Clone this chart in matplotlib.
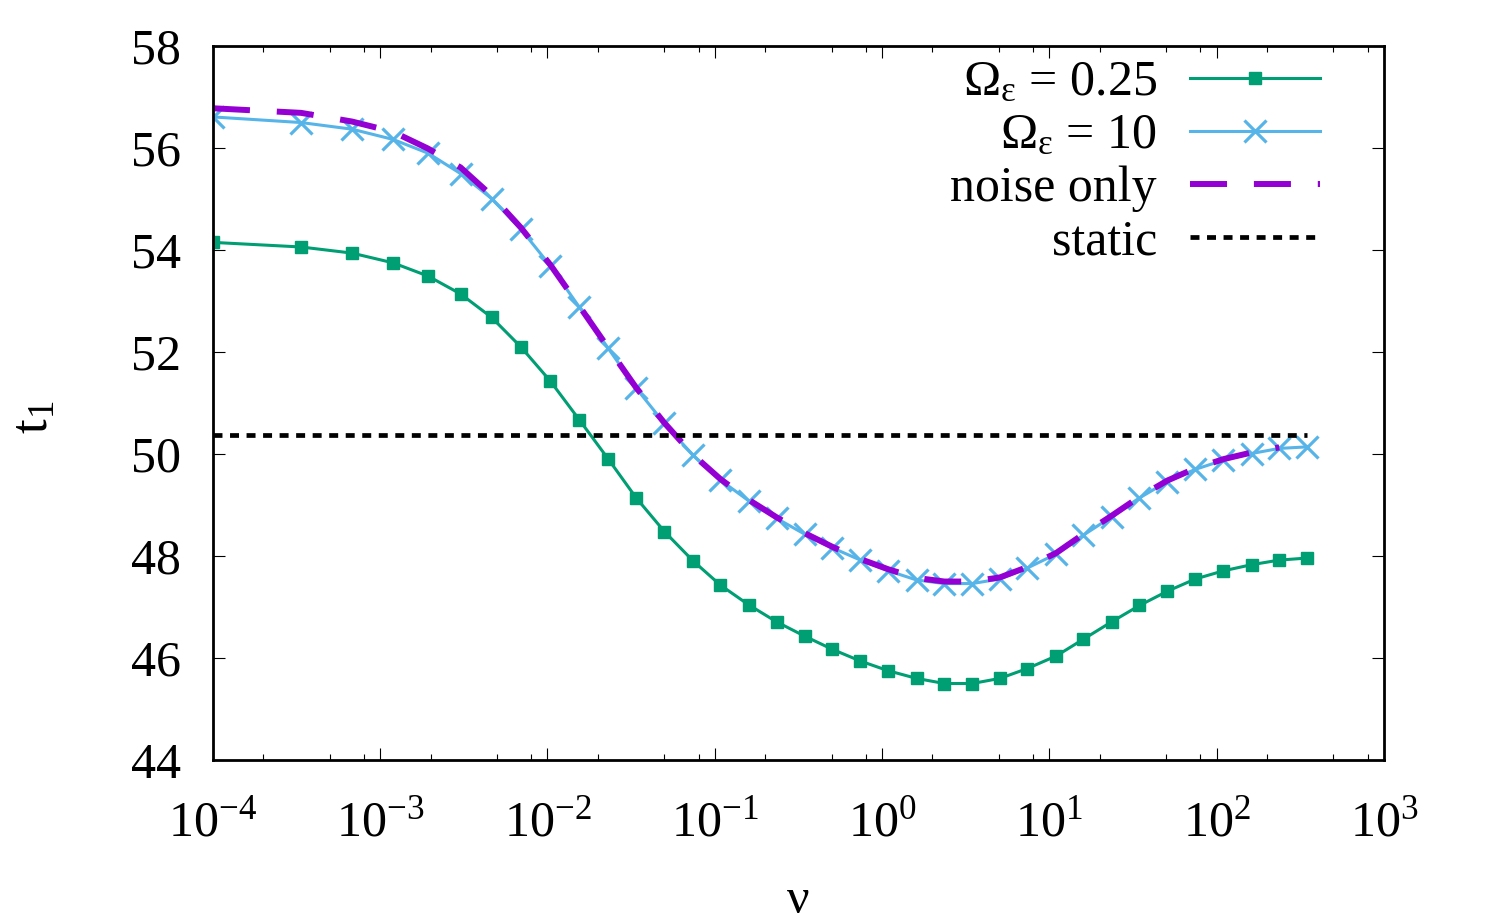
import numpy as np
import matplotlib
matplotlib.use('Agg')
import matplotlib.pyplot as plt
from matplotlib.ticker import FixedLocator, LogLocator, FuncFormatter, NullFormatter

# nu grid
nu = [1.0e-4, 3.36e-4, 6.78e-4, 1.19e-3, 1.93e-3, 3.02e-3, 4.63e-3, 6.93e-3,
      1.04e-2, 1.55e-2, 2.31e-2, 3.39e-2, 5.00e-2, 7.39e-2, 0.108, 0.160,
      0.234, 0.344, 0.505, 0.743, 1.09, 1.61, 2.36, 3.46, 5.06, 7.34,
      11.0, 16.0, 23.6, 34.6, 50.8, 74.7, 110.0, 162.0, 237.0, 346.0]

# t1 for Omega_eps = 0.25
t1_omega_025 = [54.15, 54.06, 53.94, 53.75, 53.49, 53.14, 52.68, 52.10, 51.43, 50.67,
                49.90, 49.14, 48.48, 47.91, 47.43, 47.04, 46.71, 46.43, 46.17, 45.94,
                45.75, 45.60, 45.50, 45.50, 45.60, 45.79, 46.04, 46.37, 46.71, 47.03,
                47.31, 47.55, 47.71, 47.83, 47.92, 47.96]

# t1 for Omega_eps = 10
t1_omega_10 = [56.61, 56.50, 56.37, 56.17, 55.90, 55.50, 55.01, 54.41, 53.69, 52.88,
               52.07, 51.29, 50.60, 49.98, 49.49, 49.08, 48.74, 48.43, 48.16, 47.92,
               47.71, 47.53, 47.46, 47.46, 47.55, 47.76, 48.04, 48.41, 48.77, 49.14,
               49.46, 49.70, 49.88, 50.01, 50.11, 50.14]

# noise only (ends one point earlier)
t1_noise = [56.78, 56.69, 56.52, 56.32, 55.99, 55.62, 55.07, 54.44, 53.71, 52.90,
            52.08, 51.30, 50.61, 49.99, 49.51, 49.10, 48.76, 48.45, 48.18, 47.94,
            47.74, 47.57, 47.50, 47.50, 47.58, 47.78, 48.06, 48.43, 48.79, 49.16,
            49.48, 49.72, 49.90, 50.03, 50.13]

t1_static = 50.37

plt.rcParams['font.family'] = 'Liberation Serif'
plt.rcParams['mathtext.fontset'] = 'custom'
plt.rcParams['mathtext.rm'] = 'Liberation Serif'
plt.rcParams['mathtext.it'] = 'Liberation Serif:italic'

fs = 36
fig = plt.figure(figsize=(15.04, 9.21), dpi=100)
ax = fig.add_axes([0.1416, 0.1748, 0.7785, 0.7752])

ax.plot(nu, t1_omega_025, color='#009e73', lw=2.2, marker='s', ms=9,
        label=r'$\mathregular{\Omega_{\epsilon}}$ = 0.25')
ax.plot(nu, t1_omega_10, color='#56b4e9', lw=2.2, marker='x', ms=16, mew=2.3,
        label=r'$\mathregular{\Omega_{\epsilon}}$ = 10')
ax.plot(nu[:len(t1_noise)], t1_noise, color='#9400d3', lw=4.3, dashes=(6.2, 4.5),
        label='noise only')
ax.plot([nu[0], nu[-1]], [t1_static, t1_static], color='black', lw=3.4,
        dashes=(1.9, 1.6), label='static')

ax.set_xscale('log')
ax.set_xlim(1e-4, 1e3)
ax.set_ylim(44, 58)
ax.xaxis.set_major_locator(FixedLocator(10.0 ** np.arange(-4, 4)))
ax.xaxis.set_minor_locator(LogLocator(base=10, subs=(2.0, 5.0, 8.0), numticks=30))
ax.xaxis.set_minor_formatter(NullFormatter())
ax.xaxis.set_major_formatter(FuncFormatter(
    lambda v, _: r'$\mathregular{10^{%d}}$' % int(round(np.log10(v)))))
ax.yaxis.set_major_locator(FixedLocator(np.arange(44, 59, 2)))

ax.tick_params(which='both', direction='in', top=True, right=True,
               width=0.8, color='black', labelsize=fs)
ax.tick_params(which='major', length=8.6)
ax.tick_params(which='minor', length=4.3)
ax.tick_params(axis='y', pad=23)
ax.tick_params(axis='x', pad=29)
for s in ax.spines.values():
    s.set_linewidth(2)

ax.set_xlabel('ν', fontsize=fs, va='center')
ax.set_ylabel(r'$\mathregular{t_1}$', fontsize=38)
ax.xaxis.set_label_coords(0.5, -0.197)
ax.yaxis.set_label_coords(-0.132, 0.48)

# gnuplot-style key: labels right-aligned, sample on the right
leg = ax.legend(loc='upper right', bbox_to_anchor=(0.9455, 0.981), frameon=False,
                markerfirst=False, fontsize=fs, handlelength=2.6, handletextpad=0.66,
                labelspacing=0.13, borderpad=0, borderaxespad=0)

fig.savefig('out.png', dpi=100)
